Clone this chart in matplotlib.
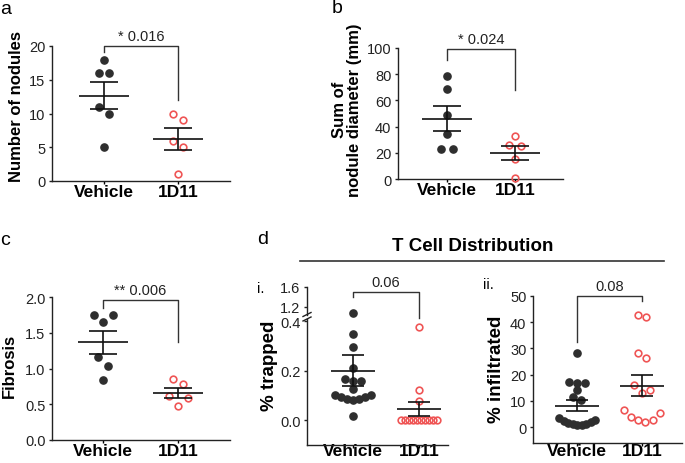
import numpy as np
import matplotlib.pyplot as plt

plt.rcParams['font.family'] = ['Liberation Sans', 'DejaVu Sans']

W, H = 685, 464

groups = ['Vehicle', '1D11']

# a: number of nodules
nodules_vehicle = [18, 16, 16, 11, 10, 5]
nodules_1d11 = [10, 9, 6, 5, 1]

# b: sum of nodule diameter (mm)
diameter_vehicle = [79, 69, 49, 34, 23, 23]
diameter_1d11 = [33, 26, 25, 15, 1]

# c: fibrosis score
fibrosis_vehicle = [1.75, 1.75, 1.65, 1.16, 1.04, 0.84]
fibrosis_1d11 = [0.86, 0.78, 0.62, 0.59, 0.47]

# d-i: % trapped
trapped_vehicle = [1.08, 0.349, 0.295, 0.211, 0.166, 0.159, 0.157, 0.128,
                   0.103, 0.092, 0.085, 0.081, 0.084, 0.092, 0.103, 0.018]
trapped_1d11 = [0.378, 0.122, 0.078, 0, 0, 0, 0, 0, 0, 0, 0, 0, 0]

# d-ii: % infiltrated
infiltrated_vehicle = [28.1, 17.3, 16.8, 16.7, 14.2, 11.6, 10.4, 3.6, 2.6,
                       1.9, 1.3, 0.9, 0.8, 1.2, 1.7, 2.2]
infiltrated_1d11 = [42.9, 41.9, 28.1, 26.3, 16.0, 14.2, 12.9, 6.5, 5.3,
                    3.9, 2.8, 2.8, 2.0]

pvalues = ['* 0.016', '* 0.024', '** 0.006', '0.06', '0.08']

DARK = '#2e2e2e'
RED = '#ef5555'
INK = '#222222'

fig = plt.figure(figsize=(W / 100, H / 100), dpi=100)


def add_axes(left, top, right, bottom):
    return fig.add_axes([left / W, 1 - bottom / H, (right - left) / W, (bottom - top) / H])


def px_scale(ax):
    bb = ax.get_window_extent()
    x0, x1 = ax.get_xlim()
    y0, y1 = ax.get_ylim()
    return bb.width / (x1 - x0), bb.height / (y1 - y0)


def style(ax, yticks, fmt='{:g}', xaxis=True, xpad=0):
    for s in ('top', 'right'):
        ax.spines[s].set_visible(False)
    for s in ('left', 'bottom'):
        ax.spines[s].set_linewidth(1.0)
        ax.spines[s].set_color(INK)
    ax.set_yticks(yticks)
    ax.set_yticklabels([fmt.format(t) for t in yticks])
    ax.tick_params(axis='y', direction='out', length=2.2, width=1.0, pad=2.5,
                   labelsize=10.5, colors=INK)
    if xaxis:
        ax.set_xticks([0, 1])
        ax.set_xticklabels(groups, fontweight='bold')
        ax.tick_params(axis='x', direction='out', length=2, width=1.0, pad=xpad,
                       labelsize=12.5, colors='black')
    else:
        ax.spines['bottom'].set_visible(False)
        ax.set_xticks([])


def swarm(ax, vals, pos, thresh, step, maxw):
    # group close values into rows, spread each row symmetrically (lowest in the middle)
    vals = np.asarray(vals, dtype=float)
    xs, ys = px_scale(ax)
    order = list(np.argsort(-vals, kind='stable'))
    rows, cur = [], [order[0]]
    for i in order[1:]:
        if (vals[cur[-1]] - vals[i]) * ys <= thresh:
            cur.append(i)
        else:
            rows.append(cur)
            cur = [i]
    rows.append(cur)
    x = np.full(len(vals), float(pos))
    for row in rows:
        k = len(row)
        if k < 2:
            continue
        st = min(step, maxw / (k - 1)) / xs
        slots = np.arange(k) - (k - 1) / 2
        slots = sorted(slots, key=lambda s: (abs(s), -s))
        row = sorted(row, key=lambda i: vals[i])
        for i, s in zip(row, slots):
            x[i] = pos + s * st
    return x


def dots(ax, vals, x, filled):
    if filled:
        ax.plot(x, vals, 'o', ms=5.2, color=DARK, mec=DARK, ls='none', zorder=3, clip_on=False)
    else:
        ax.plot(x, vals, 'o', ms=4.8, mfc='none', mec=RED, mew=1.2, ls='none', zorder=3, clip_on=False)


def mean_sem(ax, vals, pos, half_mean, half_cap):
    xs, _ = px_scale(ax)
    m = np.mean(vals)
    se = np.std(vals, ddof=1) / np.sqrt(len(vals))
    kw = dict(color='#111111', lw=1.2, zorder=4)
    ax.hlines(m, pos - half_mean / xs, pos + half_mean / xs, **kw)
    ax.hlines([m - se, m + se], pos - half_cap / xs, pos + half_cap / xs, **kw)
    ax.vlines(pos, m - se, m + se, **kw)


def bracket(ax, y_left, y_top, y_right, text):
    ax.plot([0, 0, 1, 1], [y_left, y_top, y_top, y_right], color='#333333',
            lw=1.0, clip_on=False, zorder=2)
    ax.annotate(text, xy=(0.5, y_top), xytext=(0, 2), textcoords='offset points',
                ha='center', va='bottom', fontsize=10.5, color=INK, annotation_clip=False)


def panel(ax, v1, v2, thresh, step, maxw, half_mean, half_cap):
    x1 = swarm(ax, v1, 0, thresh, step, maxw)
    x2 = swarm(ax, v2, 1, thresh, step, maxw)
    dots(ax, v1, x1, True)
    dots(ax, v2, x2, False)
    mean_sem(ax, v1, 0, half_mean, half_cap)
    mean_sem(ax, v2, 1, half_mean, half_cap)


def ylabel(x, y, text, size=12):
    fig.text(x / W, 1 - y / H, text, rotation=90, ha='center', va='center',
             fontsize=size, fontweight='bold', linespacing=1.0)


def letter(x, y, text, size=14):
    fig.text(x / W, 1 - y / H, text, ha='left', va='top', fontsize=size)


# ---- a ----
ax_a = add_axes(52, 47, 230, 182)
ax_a.set_xlim(-0.7, 1.7)
ax_a.set_ylim(0, 20)
style(ax_a, [0, 5, 10, 15, 20])
panel(ax_a, nodules_vehicle, nodules_1d11, 9, 10, 30, 25, 14)
bracket(ax_a, 19.1, 20.05, 12, pvalues[0])
ylabel(17, 106, 'Number of nodules')
letter(0, 1, 'a')

# ---- b ----
ax_b = add_axes(398, 49, 563, 180)
ax_b.set_xlim(-0.72, 1.71)
ax_b.set_ylim(0, 100)
style(ax_b, [0, 20, 40, 60, 80, 100])
panel(ax_b, diameter_vehicle, diameter_1d11, 9, 12, 30, 25, 14)
bracket(ax_b, 91, 99.5, 68, pvalues[1])
ylabel(347, 110, 'Sum of\nnodule diameter (mm)')
letter(332, 0, 'b')

# ---- c ----
ax_c = add_axes(52, 298, 230, 441)
ax_c.set_xlim(-0.68, 1.69)
ax_c.set_ylim(0, 2)
style(ax_c, [0, 0.5, 1.0, 1.5, 2.0], fmt='{:.1f}')
panel(ax_c, fibrosis_vehicle, fibrosis_1d11, 9, 9.5, 30, 25, 14)
bracket(ax_c, 1.85, 1.96, 1.37, pvalues[2])
ylabel(9, 366, 'Fibrosis')
letter(0, 232, 'c')

# ---- d-i (broken y axis) ----
ax_di = add_axes(307, 320, 448, 445.7)
ax_di.set_xlim(-0.69, 1.43)
ax_di.set_ylim(-0.1, 0.41)
style(ax_di, [0.0, 0.2, 0.4], fmt='{:.1f}', xpad=-3)
ax_du = add_axes(307, 288, 448, 315.5)
ax_du.set_xlim(-0.69, 1.43)
ax_du.set_ylim(1.05, 1.6)
style(ax_du, [1.2, 1.6], fmt='{:.1f}', xaxis=False)

for vals, pos, filled in ((trapped_vehicle, 0, True), (trapped_1d11, 1, False)):
    x = swarm(ax_di, vals, pos, 5.5, 8, 36)
    v = np.asarray(vals)
    hi = v > 0.5
    dots(ax_di, v[~hi], x[~hi], filled)
    dots(ax_du, v[hi], x[hi], filled)
    mean_sem(ax_di, vals, pos, 22, 11)

for ax, y in ((ax_du, 0), (ax_di, 1)):
    dx, dy = 4 / 141, (2 / 27.5 if y == 0 else 2 / 125.7)
    ax.plot([-dx, dx], [y - dy, y + dy], transform=ax.transAxes, color=INK,
            lw=1.0, clip_on=False)
bracket(ax_du, 1.4, 1.506, 0.98, pvalues[3])
ylabel(270, 366, '% trapped', size=13.5)
letter(257, 231, 'd')
letter(257, 282, 'i.', size=10.5)

# ---- d-ii ----
ax_dii = add_axes(533, 297, 682, 444)
ax_dii.set_xlim(-0.68, 1.62)
ax_dii.set_ylim(-6.1, 50)
style(ax_dii, [0, 10, 20, 30, 40, 50], xpad=-2)
panel(ax_dii, infiltrated_vehicle, infiltrated_1d11, 5.5, 8, 36, 22, 11)
bracket(ax_dii, 32.4, 50.1, 48.2, pvalues[4])
ylabel(496, 369, '% infiltrated', size=13.5)
letter(483, 278, 'ii.', size=10.5)

# ---- T cell header ----
fig.text(473 / W, 1 - 247 / H, 'T Cell Distribution', ha='center', va='center',
         fontsize=13.5, fontweight='bold')
fig.add_artist(plt.Line2D([300 / W, 664 / W], [1 - 262 / H, 1 - 262 / H],
                          color='#333333', lw=1.2))

fig.savefig('out.png', dpi=100)
